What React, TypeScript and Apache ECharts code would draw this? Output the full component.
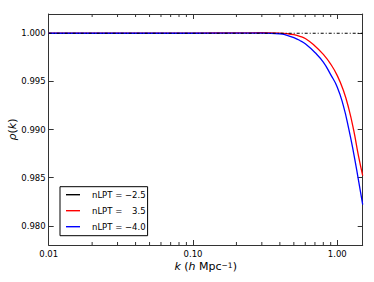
import React, { useEffect, useRef } from 'react';
import * as echarts from 'echarts';

const kGrid = [0.01, 0.05, 0.1, 0.2, 0.3, 0.4, 0.45, 0.5, 0.55, 0.6, 0.7, 0.8, 0.9, 1.0, 1.1, 1.2, 1.3, 1.4, 1.5];
const rhoRed = [1.0, 1.0, 1.00001, 1.00004, 1.00005, 1.00002, 0.99996, 0.99985, 0.99968, 0.99945, 0.99868, 0.9978, 0.9968, 0.9956, 0.9941, 0.9922, 0.9899, 0.9873, 0.9852];
const rhoBlue = [1.0, 1.0, 1.0, 1.00002, 1.00002, 0.99995, 0.99978, 0.99955, 0.99925, 0.9989, 0.998, 0.997, 0.9957, 0.9944, 0.9925, 0.9901, 0.9875, 0.9848, 0.9822];
const kBlack = [0.01, 1.5];
const rhoBlack = [1.0, 1.0];
const minorTickK = [0.02, 0.03, 0.04, 0.05, 0.06, 0.07, 0.08, 0.09, 0.2, 0.3, 0.4, 0.5, 0.6, 0.7, 0.8, 0.9];
const seriesNames = ['nLPT = \u22122.5', 'nLPT = \u2007\u20093.5', 'nLPT = \u22124.0'];
const seriesColors = ['#000000', '#ff0000', '#0000ff'];
const xRange = [0.01, 1.5];
const yRange = [0.978, 1.002];

const FONT = 'DejaVu Sans';

export default function App() {
  const ref = useRef<HTMLDivElement>(null);
  useEffect(() => {
    if (!ref.current) return;
    const chart = echarts.init(ref.current, null, { renderer: 'svg' });
    const pair = (ks: number[], vs: number[]) => ks.map((k, i) => [k, vs[i]]);
    const axisLine = { show: true, lineStyle: { color: '#333', width: 1 } };
    const xLabelFmt = (v: number) => {
      const l = Math.log10(v);
      return Math.abs(l - Math.round(l)) < 1e-6 ? v.toFixed(2) : '';
    };
    const yLabelFmt = (v: number) => {
      const t = v * 200;
      return Math.abs(t - Math.round(t)) < 1e-6 ? v.toFixed(3) : '';
    };
    chart.setOption({
      animation: false,
      backgroundColor: '#fff',
      grid: { left: 48.7, right: 11.3, top: 14, bottom: 37, containLabel: false, outerBoundsMode: 'none' },
      xAxis: [
        {
          type: 'log', logBase: 10, min: xRange[0], max: xRange[1], position: 'bottom',
          axisLine, splitLine: { show: false },
          axisTick: { inside: true, length: 5, lineStyle: { color: '#333' } },
          axisLabel: { formatter: xLabelFmt, fontFamily: FONT, fontSize: 8.5, color: '#000', margin: 4 },
          name: '{i|k} ({i|h} Mpc{s|\u22121})',
          nameLocation: 'middle', nameGap: 16, nameMoveOverlap: false,
          nameTextStyle: {
            fontFamily: FONT, fontSize: 11, color: '#000',
            rich: {
              i: { fontFamily: FONT, fontSize: 11, fontStyle: 'italic', color: '#000' },
              s: { fontFamily: FONT, fontSize: 7.5, color: '#000', verticalAlign: 'top' },
            },
          },
        },
        {
          type: 'log', logBase: 10, min: xRange[0], max: xRange[1], position: 'top',
          axisLine, splitLine: { show: false },
          axisTick: { inside: true, length: 5, lineStyle: { color: '#333' } },
          axisLabel: { show: false },
        },
      ],
      yAxis: [
        {
          type: 'value', min: yRange[0], max: yRange[1], splitNumber: 5, position: 'left',
          axisLine, splitLine: { show: false },
          axisTick: { inside: true, length: 5, lineStyle: { color: '#333' } },
          axisLabel: { formatter: yLabelFmt, fontFamily: FONT, fontSize: 8.5, color: '#000', margin: 3 },
          name: '{i|\u03c1}({i|k})',
          nameLocation: 'middle', nameRotate: 90, nameGap: 31, nameMoveOverlap: false,
          nameTextStyle: {
            fontFamily: FONT, fontSize: 11, color: '#000',
            rich: { i: { fontFamily: FONT, fontSize: 11, fontStyle: 'italic', color: '#000' } },
          },
        },
        {
          type: 'value', min: yRange[0], max: yRange[1], splitNumber: 5, position: 'right',
          axisLine, splitLine: { show: false },
          axisTick: { inside: true, length: 5, lineStyle: { color: '#333' } },
          axisLabel: { show: false },
        },
      ],
      legend: {
        orient: 'vertical', left: 60, top: 186.7,
        icon: 'rect',
        itemWidth: 14, itemHeight: 1.4, itemGap: 6,
        padding: [3, 2, 4, 6],
        borderColor: '#000', borderWidth: 1, borderRadius: 0,
        backgroundColor: '#fff',
        textStyle: { fontFamily: FONT, fontSize: 8.5, lineHeight: 10, color: '#000', padding: [0, 0, 0, 7] },
        data: seriesNames.map((n, i) => ({ name: n, itemStyle: { color: seriesColors[i] } })),
      },
      series: [
        {
          name: seriesNames[0], type: 'line', data: pair(kBlack, rhoBlack), symbol: 'none', z: 4,
          lineStyle: { color: seriesColors[0], width: 1, type: [3, 2, 1, 2] }, itemStyle: { color: seriesColors[0] },
        },
        {
          name: seriesNames[1], type: 'line', data: pair(kGrid, rhoRed), symbol: 'none', smooth: 0.5, z: 2,
          lineStyle: { color: seriesColors[1], width: 1.3 }, itemStyle: { color: seriesColors[1] },
        },
        {
          name: seriesNames[2], type: 'line', data: pair(kGrid, rhoBlue), symbol: 'none', smooth: 0.5, z: 3,
          lineStyle: { color: seriesColors[2], width: 1.3 }, itemStyle: { color: seriesColors[2] },
        },
        {
          type: 'custom', name: 'minorTicks', silent: true, z: 5,
          data: minorTickK.map((k) => [k]),
          renderItem: (params: any, api: any) => {
            const k = api.value(0);
            const b = api.coord([k, yRange[0]]);
            const t = api.coord([k, yRange[1]]);
            const style = { stroke: '#333', lineWidth: 1 };
            return {
              type: 'group',
              children: [
                { type: 'line', shape: { x1: b[0], y1: b[1], x2: b[0], y2: b[1] - 3 }, style },
                { type: 'line', shape: { x1: t[0], y1: t[1], x2: t[0], y2: t[1] + 3 }, style },
              ],
            };
          },
          clip: false,
        },
      ],
    });
    return () => chart.dispose();
  }, []);
  return <div ref={ref} style={{ position: 'absolute', left: 0, top: 0, width: 374, height: 282 }} />;
}
